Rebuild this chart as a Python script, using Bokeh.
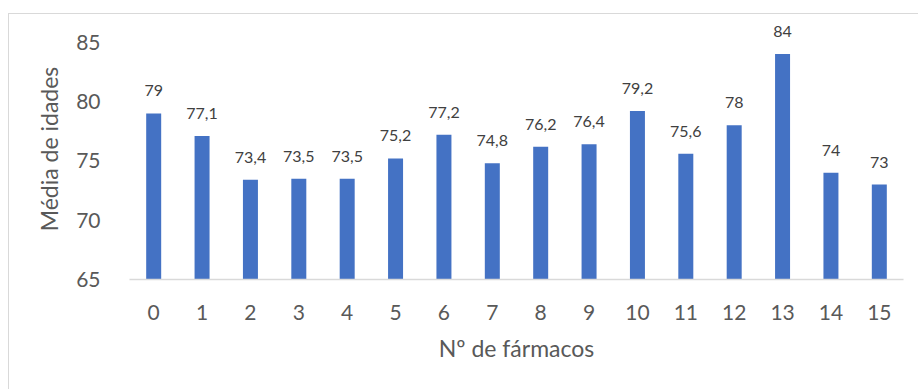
from bokeh.plotting import figure
from bokeh.models import Range1d, FixedTicker, ColumnDataSource, LabelSet
from bokeh.core.properties import value
from bokeh.embed import file_html
from bokeh.resources import INLINE

# Number of drugs (categories) and mean age per group
n_farmacos = list(range(16))
media_idades = [79, 77.1, 73.4, 73.5, 73.5, 75.2, 77.2, 74.8, 76.2, 76.4,
                79.2, 75.6, 78, 84, 74, 73]
y_ticks = [65, 70, 75, 80, 85]

FONT = "Lato"
rotulos = [f"{v:g}".replace(".", ",") for v in media_idades]

src = ColumnDataSource(dict(x=n_farmacos, top=media_idades, lab=rotulos))

# the y range runs a little past the last tick so the value labels have room
p = figure(width=910, height=376, output_backend="svg", toolbar_location=None,
           x_range=Range1d(-0.5, 15.5), y_range=Range1d(65, 87),
           min_border_left=120, min_border_right=16,
           min_border_top=4, min_border_bottom=111)
p.margin = (13, 0, 0, 8)
p.styles = {"border-left": "1px solid #d9d9d9", "border-top": "1px solid #d9d9d9"}
p.outline_line_color = None
p.background_fill_color = "white"
p.border_fill_color = "white"

p.vbar(x="x", top="top", bottom=65, width=0.31, source=src,
       fill_color="#4472C4", line_color=None)

labels = LabelSet(x="x", y="top", text="lab", source=src, text_align="center",
                  text_baseline="alphabetic", y_offset=17,
                  text_font=value(FONT), text_font_size=value("16px"),
                  text_color=value("#404040"))
p.add_layout(labels)

p.xgrid.visible = False
p.ygrid.visible = False

xa = p.xaxis[0]
xa.ticker = FixedTicker(ticks=n_farmacos)
xa.axis_line_color = "#d9d9d9"
xa.axis_line_width = 1.5
xa.major_tick_line_color = None
xa.minor_tick_line_color = None
xa.major_label_standoff = 19
xa.major_label_text_font = FONT
xa.major_label_text_font_size = "21px"
xa.major_label_text_color = "#595959"
xa.axis_label = "Nº de fármacos"
xa.axis_label_text_font = FONT
xa.axis_label_text_font_size = "23px"
xa.axis_label_text_font_style = "normal"
xa.axis_label_text_color = "#595959"
xa.axis_label_standoff = 11

ya = p.yaxis[0]
ya.ticker = FixedTicker(ticks=y_ticks)
ya.axis_line_color = None
ya.major_tick_line_color = None
ya.minor_tick_line_color = None
ya.major_label_standoff = 23
ya.major_label_text_font = FONT
ya.major_label_text_font_size = "21px"
ya.major_label_text_color = "#595959"
ya.axis_label = "Média de idades"
ya.axis_label_text_font = FONT
ya.axis_label_text_font_size = "23px"
ya.axis_label_text_font_style = "normal"
ya.axis_label_text_color = "#595959"
ya.axis_label_standoff = 10

open("out.html", "w").write(file_html(p, INLINE))
